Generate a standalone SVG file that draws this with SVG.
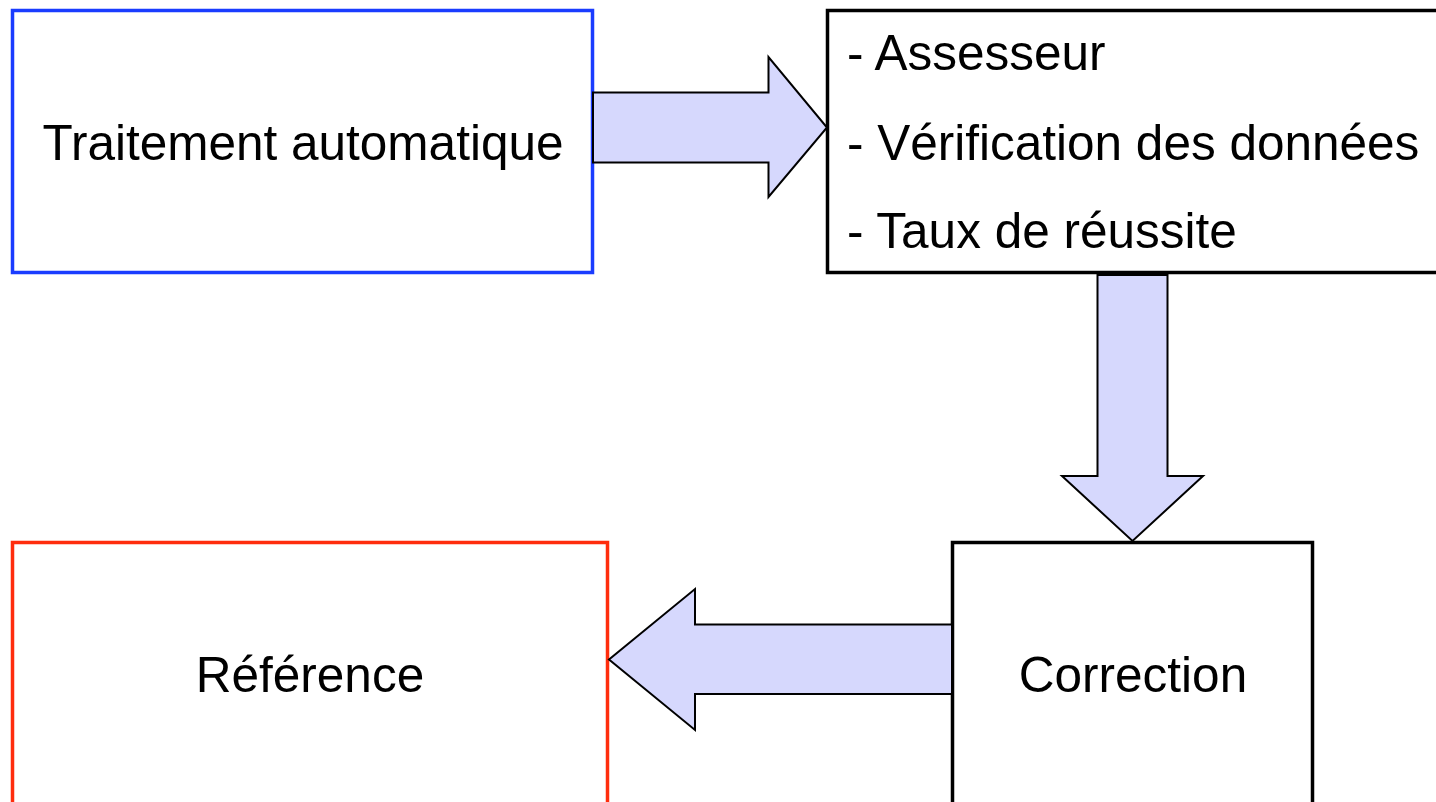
<svg xmlns="http://www.w3.org/2000/svg" width="1436" height="802" viewBox="0 0 1436 802">
<style>
.box{fill:#ffffff;stroke-width:3.5}
.lbl{font-family:"Liberation Sans",Arial,sans-serif;font-size:49.5px;fill:#000000}
.arrow{fill:#d6d8fd;stroke:#000000;stroke-width:2;stroke-linejoin:miter}
</style>
<rect width="1436" height="802" fill="#ffffff"/>
<g id="node-traitement">
<rect class="box" x="12.5" y="10.5" width="580" height="262" stroke="#1a3cff"/>
<text class="lbl" x="303" y="160" text-anchor="middle">Traitement automatique</text>
</g>
<g id="node-criteres">
<rect class="box" x="827.5" y="10.5" width="640" height="262" stroke="#000000"/>
<text class="lbl" x="847" y="70">- Assesseur</text>
<text class="lbl" x="847" y="160">- Vérification des données</text>
<text class="lbl" x="847" y="248">- Taux de réussite</text>
</g>
<g id="node-correction">
<rect class="box" x="952.5" y="542.5" width="360" height="280" stroke="#000000"/>
<text class="lbl" x="1133" y="692" text-anchor="middle">Correction</text>
</g>
<g id="node-reference">
<rect class="box" x="12.5" y="542.5" width="595" height="280" stroke="#ff2d0d"/>
<text class="lbl" x="310" y="692" text-anchor="middle">Référence</text>
</g>
<g id="connectors">
<polygon class="arrow" points="593,92.5 768.5,92.5 768.5,57 827,127.5 768.5,197 768.5,162.5 593,162.5"/>
<polygon class="arrow" points="1097.5,275 1167.5,275 1167.5,476 1203,476 1132.5,541 1062,476 1097.5,476"/>
<polygon class="arrow" points="952,624.5 695,624.5 695,589 609,659.5 695,730 695,694 952,694"/>
</g>
</svg>
